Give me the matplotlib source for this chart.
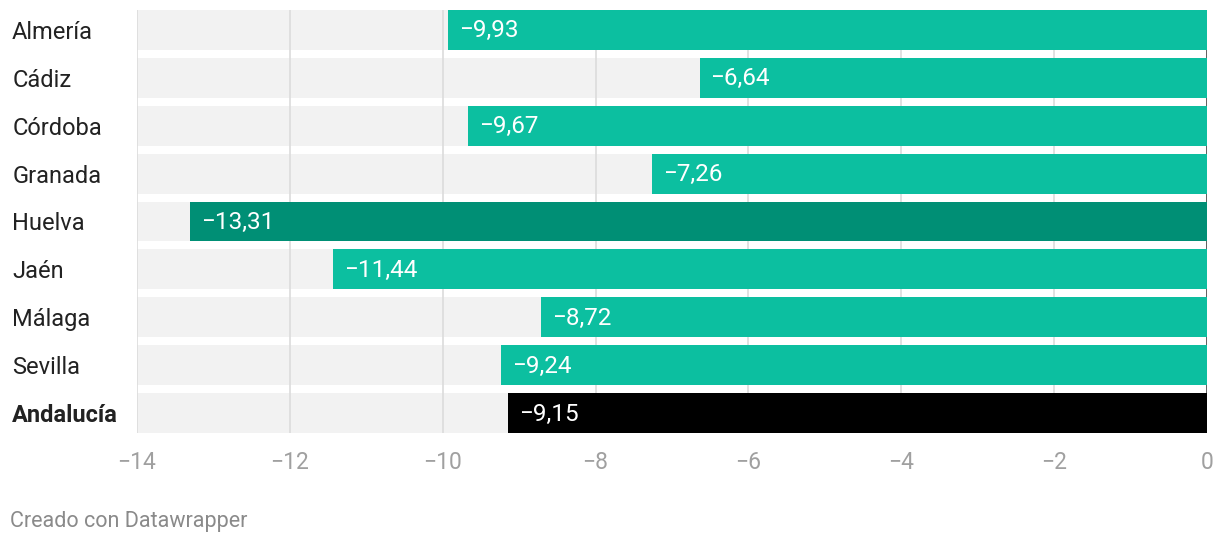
import matplotlib.pyplot as plt
import matplotlib.transforms as mtransforms

provinces = ["Almería", "Cádiz", "Córdoba", "Granada", "Huelva", "Jaén", "Málaga", "Sevilla", "Andalucía"]
values = [-9.93, -6.64, -9.67, -7.26, -13.31, -11.44, -8.72, -9.24, -9.15]
colors = ["#0cbfa0"] * 4 + ["#008f75"] + ["#0cbfa0"] * 3 + ["#000000"]
xticks = [-14, -12, -10, -8, -6, -4, -2, 0]

plt.rcParams["font.family"] = ["Roboto", "DejaVu Sans"]

W, H = 1220, 546
fig = plt.figure(figsize=(W / 100, H / 100), dpi=100)
ax = fig.add_axes([137 / W, 1 - 433 / H, (1207 - 137) / W, (433 - 10) / H])

bh = 0.833
ypos = list(range(len(provinces)))
ax.set_xlim(-14, 0)
ax.set_ylim(len(provinces) - 1 + bh / 2, -bh / 2)

# gray background bars
ax.barh(ypos, [-14] * len(provinces), height=bh, color="#f2f2f2", zorder=1)
for x in xticks:
    ax.axvline(x, color="#dcdcdc" if x != 0 else "#444444", lw=1.2, zorder=2)
ax.barh(ypos, values, height=bh, color=colors, zorder=3)

off = mtransforms.offset_copy(ax.transData, fig=fig, x=11, y=-1, units="dots")
for y, v in zip(ypos, values):
    lbl = ("−" + f"{abs(v):.2f}").replace(".", ",")
    ax.text(v, y, lbl, transform=off, color="white", fontsize=17.5, va="center", ha="left", zorder=4)

ax.set_yticks(ypos)
ax.set_yticklabels(provinces, fontsize=17, color="#222222")
ax.get_yticklabels()[-1].set_fontweight("bold")
for t in ax.get_yticklabels():
    t.set_horizontalalignment("left")
    t.set_x(-120 / (1207 - 137))
ax.set_xticks(xticks)
ax.set_xticklabels([("−" + str(abs(x))) if x < 0 else "0" for x in xticks], fontsize=16.5, color="#a0a0a0")
ax.tick_params(axis="both", length=0)
ax.tick_params(axis="x", pad=13)
for s in ax.spines.values():
    s.set_visible(False)

fig.text(10 / W, 1 - 522 / H, "Creado con Datawrapper", fontsize=15.5, color="#8a8a8a", va="center")

fig.savefig("out.png", dpi=100)
